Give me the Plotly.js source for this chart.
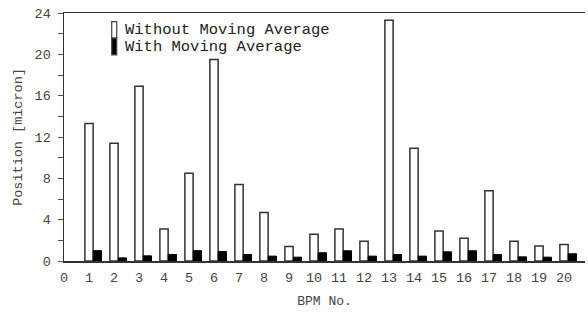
<!DOCTYPE html>
<html>
<head>
<meta charset="utf-8">
<script src="https://cdn.plot.ly/plotly-3.0.1.min.js"></script>
<style>html,body{margin:0;padding:0;background:#fff;}#chart{width:588px;height:315px;}</style>
</head>
<body>
<div id="chart"></div>
<script>
const bpm = [1,2,3,4,5,6,7,8,9,10,11,12,13,14,15,16,17,18,19,20];
const withoutMA = [13.3,11.4,16.9,3.1,8.5,19.5,7.4,4.7,1.4,2.6,3.1,1.9,23.3,10.9,2.9,2.2,6.8,1.9,1.45,1.6];
const withMA = [1.0,0.3,0.5,0.63,1.0,0.92,0.63,0.47,0.37,0.8,0.99,0.47,0.63,0.47,0.89,0.99,0.63,0.4,0.37,0.7];
const seriesNames = ['Without Moving Average', 'With Moving Average'];
const xTicks = [0,1,2,3,4,5,6,7,8,9,10,11,12,13,14,15,16,17,18,19,20];
const yTicks = [0,4,8,12,16,20,24];

const mono = 'Liberation Mono, Courier New, monospace';
const txt = '#444';

const traces = [
  {type:'bar', x:bpm, y:withoutMA, name:seriesNames[0], width:0.33, offset:-0.165,
   marker:{color:'#ffffff', line:{color:'#333', width:1.5}}},
  {type:'bar', x:bpm, y:withMA, name:seriesNames[1], width:0.33, offset:0.17,
   marker:{color:'#000000', line:{color:'#000', width:1}}}
];

// legend drawn as swatches + text (stacked narrow swatches like the original)
const legShapes = [
  {type:'rect', xref:'paper', yref:'paper', x0:0.0916, x1:0.1012, y0:0.899, y1:0.965,
   fillcolor:'#fff', line:{color:'#444', width:1.2}},
  {type:'rect', xref:'paper', yref:'paper', x0:0.0916, x1:0.1012, y0:0.831, y1:0.899,
   fillcolor:'#000', line:{color:'#444', width:1.2}}
];
const legAnn = seriesNames.map((n, i) => ({
  xref:'paper', yref:'paper', x:0.1127, y:[0.931, 0.863][i], xanchor:'left', yanchor:'middle',
  text:n, showarrow:false, font:{family:mono, size:15.5, color:'#222'}
}));

const layout = {
  width:588, height:315,
  margin:{l:64, r:3, t:13, b:54},
  paper_bgcolor:'#fff', plot_bgcolor:'#fff',
  barmode:'overlay',
  showlegend:false,
  shapes:legShapes,
  annotations:legAnn,
  xaxis:{range:[0,20.84], tickvals:xTicks, ticktext:xTicks.map(String), ticks:'', showgrid:false, zeroline:false,
    showline:true, linecolor:'#333', linewidth:1.5, mirror:true,
    ticklabelstandoff:3,
    tickfont:{family:mono, size:13.5, color:txt},
    title:{text:'BPM No.', font:{family:mono, size:13, color:txt}, standoff:11}},
  yaxis:{range:[0,24], tickvals:yTicks, ticktext:yTicks.map(String), ticks:'outside', ticklen:0, showgrid:false, zeroline:false,
    showline:true, linecolor:'#333', linewidth:1.5,
    minor:{dtick:2, ticks:'outside', ticklen:5, tickcolor:'#555', tickwidth:1},
    ticklabelstandoff:9,
    tickfont:{family:mono, size:13.5, color:txt},
    title:{text:'Position [micron]', font:{family:mono, size:13.5, color:txt}, standoff:9}},
  yaxis2:{range:[0,24], overlaying:'y', side:'right', anchor:'x', tickvals:yTicks, showticklabels:false,
    ticks:'inside', ticklen:5, tickcolor:'#333', showgrid:false, zeroline:false,
    showline:true, linecolor:'#333', linewidth:1.5,
    minor:{dtick:2, ticks:'inside', ticklen:2, tickcolor:'#555'}}
};

Plotly.newPlot('chart', traces, layout, {staticPlot:true, displayModeBar:false});
</script>
</body>
</html>
